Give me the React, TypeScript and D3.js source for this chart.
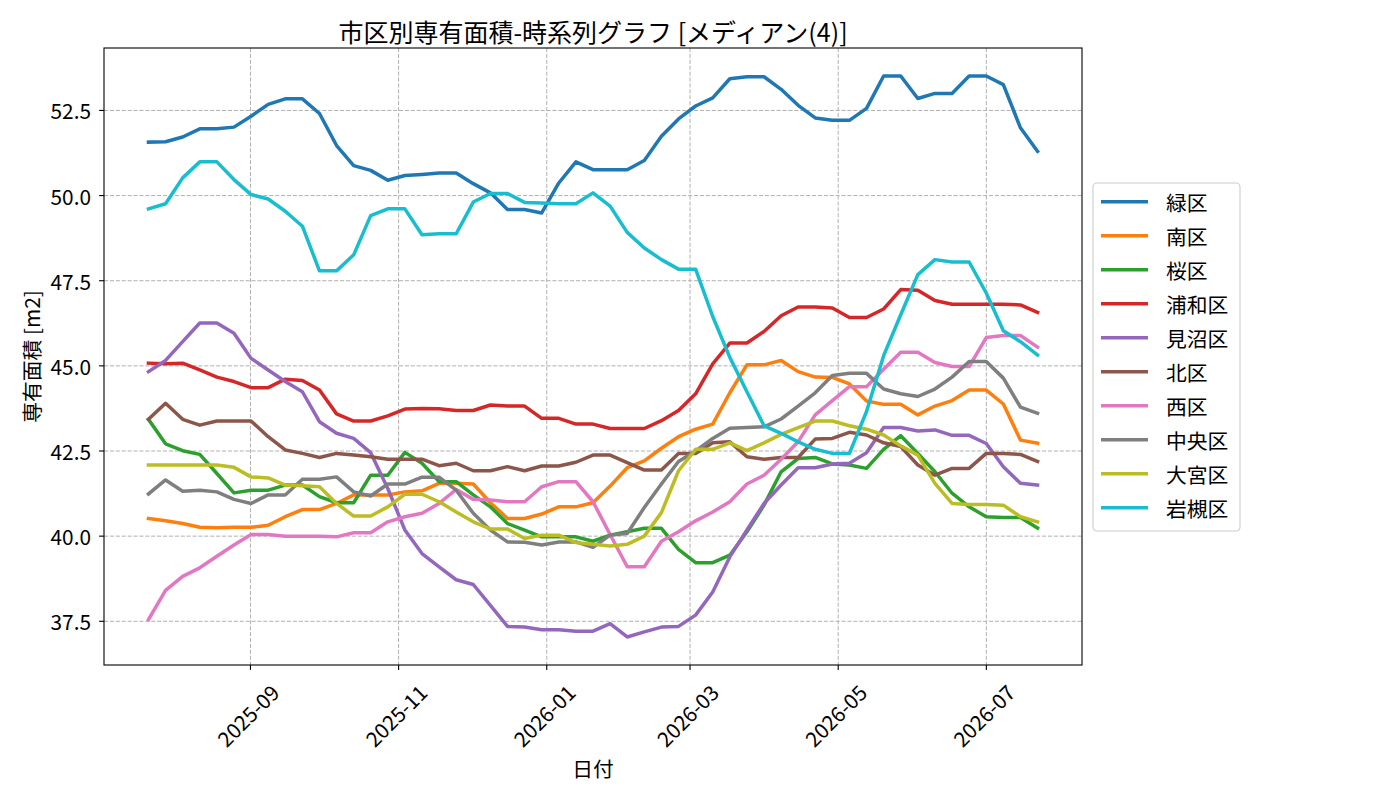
import React, { useEffect } from "react";
import * as d3 from "d3";

// weekly-ish points (53), first one 2025-07-21
const startDate = new Date(2025, 6, 21);
const stepDays = 7.04;
const dates = d3.range(53).map((i) => d3.timeHour.offset(startDate, Math.round(i * stepDays * 24)));

const wards = ["緑区", "南区", "桜区", "浦和区", "見沼区", "北区", "西区", "中央区", "大宮区", "岩槻区"];
const colors = ["#1f77b4", "#ff7f0e", "#2ca02c", "#d62728", "#9467bd", "#8c564b", "#e377c2", "#7f7f7f", "#bcbd22", "#17becf"];

const midori = [
  51.57, 51.58, 51.72, 51.96, 51.96, 52.01, 52.33, 52.68, 52.84, 52.84,
  52.41, 51.47, 50.88, 50.74, 50.45, 50.59, 50.62, 50.66, 50.66, 50.35,
  50.08, 49.59, 49.59, 49.49, 50.37, 50.99, 50.76, 50.76, 50.76, 51.03,
  51.74, 52.25, 52.63, 52.87, 53.43, 53.49, 53.49, 53.12, 52.65, 52.28,
  52.21, 52.21, 52.56, 53.51, 53.51, 52.85, 53.0, 53.0, 53.51, 53.51,
  53.26, 51.99, 51.3,
];
const minami = [
  40.52, 40.45, 40.37, 40.26, 40.25, 40.26, 40.26, 40.32, 40.57, 40.78,
  40.78, 40.96, 41.21, 41.21, 41.21, 41.3, 41.33, 41.55, 41.55, 41.53,
  40.98, 40.52, 40.52, 40.65, 40.86, 40.86, 40.98, 41.47, 42.01, 42.21,
  42.58, 42.92, 43.14, 43.29, 44.21, 45.03, 45.03, 45.16, 44.83, 44.67,
  44.66, 44.47, 43.97, 43.87, 43.87, 43.56, 43.82, 43.98, 44.29, 44.29,
  43.88, 42.82, 42.73,
];
const sakura = [
  43.43, 42.71, 42.51, 42.4, 41.84, 41.27, 41.35, 41.35, 41.5, 41.5,
  41.16, 40.98, 40.98, 41.79, 41.79, 42.46, 42.14, 41.6, 41.6, 41.21,
  40.86, 40.37, 40.18, 39.98, 39.98, 39.98, 39.85, 40.03, 40.13, 40.23,
  40.23, 39.61, 39.22, 39.22, 39.44, 40.13, 40.91, 41.89, 42.28, 42.31,
  42.12, 42.09, 41.99, 42.55, 42.95, 42.43, 41.89, 41.26, 40.86, 40.57,
  40.55, 40.55, 40.24,
];
const urawa = [
  45.08, 45.06, 45.08, 44.88, 44.67, 44.54, 44.36, 44.36, 44.61, 44.57,
  44.29, 43.59, 43.38, 43.38, 43.53, 43.73, 43.75, 43.74, 43.69, 43.69,
  43.85, 43.82, 43.82, 43.46, 43.46, 43.29, 43.29, 43.16, 43.16, 43.16,
  43.39, 43.69, 44.18, 45.06, 45.67, 45.67, 46.01, 46.47, 46.73, 46.73,
  46.7, 46.42, 46.42, 46.67, 47.24, 47.22, 46.92, 46.81, 46.81, 46.81,
  46.81, 46.79, 46.57,
];
const minuma = [
  44.83, 45.16, 45.71, 46.26, 46.26, 45.96, 45.22, 44.88, 44.54, 44.24,
  43.36, 43.02, 42.87, 42.45, 41.4, 40.18, 39.49, 39.1, 38.72, 38.58,
  37.97, 37.35, 37.33, 37.25, 37.25, 37.21, 37.21, 37.43, 37.04, 37.19,
  37.33, 37.35, 37.68, 38.36, 39.39, 40.18, 40.96, 41.5, 42.01, 42.01,
  42.12, 42.14, 42.45, 43.19, 43.19, 43.09, 43.12, 42.96, 42.96, 42.72,
  42.04, 41.55, 41.5,
];
const kita = [
  43.43, 43.9, 43.43, 43.26, 43.38, 43.38, 43.38, 42.92, 42.53, 42.43,
  42.31, 42.43, 42.38, 42.33, 42.26, 42.26, 42.26, 42.07, 42.14, 41.92,
  41.92, 42.04, 41.92, 42.06, 42.06, 42.17, 42.38, 42.38, 42.16, 41.94,
  41.94, 42.43, 42.43, 42.74, 42.77, 42.33, 42.26, 42.31, 42.31, 42.85,
  42.87, 43.05, 42.97, 42.74, 42.63, 42.09, 41.79, 41.99, 41.99, 42.43,
  42.43, 42.4, 42.19,
];
const nishi = [
  37.55, 38.41, 38.82, 39.07, 39.41, 39.74, 40.05, 40.05, 40.0, 40.0,
  40.0, 39.98, 40.1, 40.1, 40.42, 40.57, 40.67, 40.96, 41.37, 41.08,
  41.06, 41.01, 41.01, 41.45, 41.6, 41.6, 41.01, 40.05, 39.1, 39.1,
  39.85, 40.13, 40.45, 40.71, 41.01, 41.53, 41.79, 42.26, 42.77, 43.56,
  43.98, 44.39, 44.39, 44.9, 45.4, 45.4, 45.1, 44.98, 44.98, 45.83,
  45.89, 45.89, 45.55,
];
const chuo = [
  41.24, 41.65, 41.32, 41.35, 41.3, 41.08, 40.96, 41.21, 41.21, 41.67,
  41.67, 41.74, 41.3, 41.18, 41.53, 41.53, 41.73, 41.73, 41.35, 40.67,
  40.18, 39.83, 39.82, 39.74, 39.83, 39.83, 39.67, 40.03, 40.08, 40.84,
  41.53, 42.19, 42.5, 42.87, 43.17, 43.19, 43.21, 43.44, 43.82, 44.21,
  44.72, 44.78, 44.78, 44.32, 44.18, 44.1, 44.32, 44.67, 45.13, 45.13,
  44.64, 43.79, 43.61,
];
const omiya = [
  42.09, 42.09, 42.09, 42.09, 42.09, 42.02, 41.74, 41.71, 41.5, 41.48,
  41.45, 40.96, 40.59, 40.59, 40.86, 41.23, 41.23, 41.01, 40.71, 40.42,
  40.21, 40.21, 39.93, 40.03, 40.03, 39.81, 39.76, 39.71, 39.76, 40.0,
  40.69, 41.92, 42.55, 42.55, 42.74, 42.51, 42.74, 42.99, 43.19, 43.38,
  43.38, 43.24, 43.14, 42.97, 42.65, 42.38, 41.55, 40.96, 40.93, 40.93,
  40.91, 40.57, 40.42,
];
const iwatsuki = [
  49.61, 49.76, 50.52, 50.99, 50.99, 50.47, 50.03, 49.9, 49.54, 49.1,
  47.79, 47.79, 48.26, 49.41, 49.61, 49.61, 48.85, 48.88, 48.88, 49.81,
  50.06, 50.06, 49.8, 49.78, 49.76, 49.76, 50.08, 49.69, 48.92, 48.46,
  48.12, 47.84, 47.84, 46.45, 45.25, 44.24, 43.24, 43.02, 42.77, 42.55,
  42.43, 42.43, 43.66, 45.3, 46.5, 47.68, 48.12, 48.05, 48.05, 47.14,
  46.03, 45.71, 45.32,
];
const seriesValues = [midori, minami, sakura, urawa, minuma, kita, nishi, chuo, omiya, iwatsuki];

const yTicks = [37.5, 40.0, 42.5, 45.0, 47.5, 50.0, 52.5];

const W = 1400, H = 800;
const plot = { left: 104, right: 1082, top: 48, bottom: 665 };
const font = "'Noto Sans CJK JP', 'Noto Sans', sans-serif";

export default function App() {
  useEffect(() => {
    document.body.style.margin = "0";
    document.body.style.overflow = "hidden";
  }, []);

  // matplotlib-style 5% autoscale margins
  const [t0, t1] = d3.extent(dates) as [Date, Date];
  const span = +t1 - +t0;
  const x = d3.scaleTime()
    .domain([new Date(+t0 - span * 0.05), new Date(+t1 + span * 0.05)])
    .range([plot.left, plot.right]);
  const allV = seriesValues.flat();
  const vmin = d3.min(allV)!, vmax = d3.max(allV)!;
  const vpad = (vmax - vmin) * 0.05;
  const y = d3.scaleLinear().domain([vmin - vpad, vmax + vpad]).range([plot.bottom, plot.top]);

  const xTicks = x.ticks(d3.timeMonth.every(2)!);
  const fmt = d3.timeFormat("%Y-%m");
  const line = d3.line<number>().x((_, i) => x(dates[i])).y((d) => y(d));

  const legend = { x: 1093, y: 183, w: 147, h: 348, row: 34 };

  return (
    <svg width={W} height={H} style={{ position: "absolute", left: 0, top: 0, display: "block", background: "#fff" }} fontFamily={font}>
      <rect x={0} y={0} width={W} height={H} fill="#fff" />
      {/* grid */}
      <g stroke="#b0b0b0" strokeWidth={1} strokeDasharray="4.1,1.8">
        {xTicks.map((t) => (
          <line key={+t} x1={x(t)} x2={x(t)} y1={plot.top} y2={plot.bottom} />
        ))}
        {yTicks.map((v) => (
          <line key={v} x1={plot.left} x2={plot.right} y1={y(v)} y2={y(v)} />
        ))}
      </g>
      {/* series */}
      <g fill="none" strokeWidth={3.5} strokeLinejoin="round" strokeLinecap="square">
        {seriesValues.map((vals, k) => (
          <path key={wards[k]} d={line(vals) || ""} stroke={colors[k]} />
        ))}
      </g>
      {/* frame */}
      <rect x={plot.left} y={plot.top} width={plot.right - plot.left} height={plot.bottom - plot.top} fill="none" stroke="#000" strokeWidth={1.1} />
      {/* y axis */}
      <g fontSize={20.8} fill="#000">
        {yTicks.map((v) => (
          <g key={v}>
            <line x1={plot.left - 4.9} x2={plot.left} y1={y(v)} y2={y(v)} stroke="#000" strokeWidth={1.1} />
            <text x={plot.left - 13} y={y(v)} textAnchor="end" dominantBaseline="central">{v.toFixed(1)}</text>
          </g>
        ))}
      </g>
      {/* x axis */}
      <g fontSize={20.8} fill="#000">
        {xTicks.map((t) => (
          <g key={+t}>
            <line x1={x(t)} x2={x(t)} y1={plot.bottom} y2={plot.bottom + 4.9} stroke="#000" strokeWidth={1.1} />
            <text transform={`translate(${x(t) - 3},${plot.bottom + 50}) rotate(-45)`} textAnchor="middle" dominantBaseline="central">{fmt(t)}</text>
          </g>
        ))}
      </g>
      {/* labels */}
      <text x={(plot.left + plot.right) / 2} y={768} textAnchor="middle" dominantBaseline="central" fontSize={20.8}>日付</text>
      <text transform={`translate(31,${(plot.top + plot.bottom) / 2}) rotate(-90)`} textAnchor="middle" dominantBaseline="central" fontSize={20.8}>専有面積 [m2]</text>
      <text x={(plot.left + plot.right) / 2} y={31} textAnchor="middle" dominantBaseline="central" fontSize={25}>市区別専有面積-時系列グラフ [メディアン(4)]</text>
      {/* legend */}
      <g>
        <rect x={legend.x} y={legend.y} width={legend.w} height={legend.h} rx={4} fill="#fff" fillOpacity={0.8} stroke="#cccccc" strokeWidth={1.1} />
        {wards.map((w, k) => {
          const cy = legend.y + 18.7 + k * legend.row;
          return (
            <g key={w}>
              <line x1={legend.x + 8} x2={legend.x + 55} y1={cy} y2={cy} stroke={colors[k]} strokeWidth={3.5} />
              <text x={legend.x + 73} y={cy} dominantBaseline="central" fontSize={20.8}>{w}</text>
            </g>
          );
        })}
      </g>
    </svg>
  );
}
